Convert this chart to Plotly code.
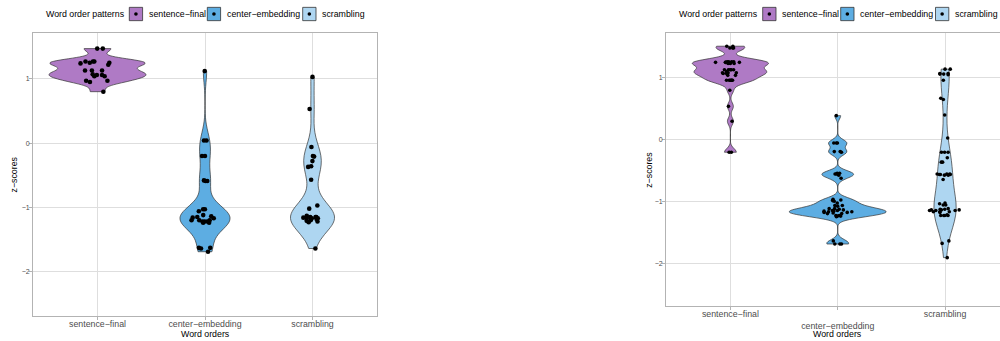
import plotly.graph_objects as go

# Word order categories (x axis) and fill colours
categories = ["sentence−final", "center−embedding", "scrambling"]
colors = ["#AF7AC5", "#5DADE2", "#AED6F1"]

# Panel A: z-scores per word order
sf_a = [1.47, 1.47, 1.27, 1.27, 1.24, 1.25, 1.27, 1.25, 1.22, 1.13, 1.13, 1.13,
        1.04, 1.07, 1.06, 1.06, 1.04, 0.97, 0.97, 0.95, 0.80]
ce_a = [1.12, 0.04, 0.04, -0.20, -0.20, -0.58, -0.59, -0.59, -1.12, -1.16, -1.14,
        -1.06, -1.15, -1.03, -1.03, -1.20, -1.20, -1.22, -1.22, -1.24, -1.20,
        -1.22, -1.24, -1.17, -1.63, -1.64, -1.63, -1.69]
sc_a = [1.03, 0.53, -0.06, -0.20, -0.21, -0.28, -0.37, -0.36, -0.57, -0.97, -1.02,
        -1.15, -1.17, -1.21, -1.15, -1.17, -1.23, -1.13, -1.15, -1.17, -1.16,
        -1.18, -1.20, -1.22, -1.64]

# Panel B: z-scores per word order
sf_b = [1.50, 1.47, 1.47, 1.50, 1.47, 1.22, 1.22, 1.22, 1.24, 1.25, 1.24, 1.25,
        1.25, 1.24, 1.25, 1.24, 1.23, 1.12, 1.12, 1.12, 1.12, 1.12, 1.09, 1.07,
        1.06, 1.07, 1.06, 1.07, 1.03, 1.03, 0.95, 0.95, 0.95, 0.95, 0.95, 0.95,
        0.79, 0.53, 0.29, -0.21, -0.21]
ce_b = [0.38, -0.06, -0.06, -0.06, -0.20, -0.20, -0.21, -0.55, -0.55, -0.56, -0.56,
        -0.58, -0.63, -0.97, -0.98, -1.00, -1.03, -0.99, -1.07, -1.07, -1.12,
        -1.12, -1.08, -1.15, -1.16, -1.17, -1.18, -1.19, -1.20, -1.16, -1.18,
        -1.17, -1.20, -1.23, -1.24, -1.25, -1.23, -1.24, -1.13, -1.14, -1.15,
        -1.69, -1.64, -1.69, -1.69]
sc_b = [1.13, 1.13, 1.06, 1.06, 1.05, 1.04, 1.05, 0.95, 0.66, 0.64, 0.39, 0.02,
        -0.21, -0.21, -0.21, -0.30, -0.37, -0.37, -0.56, -0.57, -0.57, -0.58,
        -0.56, -0.57, -0.58, -0.56, -0.65, -1.04, -1.06, -1.03, -1.06, -1.13,
        -1.15, -1.14, -1.17, -1.18, -1.17, -1.12, -1.14, -1.13, -1.15, -1.17,
        -1.15, -1.14, -1.23, -1.23, -1.23, -1.22, -1.23, -1.64, -1.68, -1.91]

y_ticks = [-2, -1, 0, 1]
legend_title = "Word order patterns"
x_title = "Word orders"
y_title = "z−scores"

# kernel bandwidths of the violin density estimates
bw_a = [0.06, 0.18, 0.22]
bw_b = [0.06, 0.055, 0.30]

FONT = "Liberation Sans, Arial, Helvetica, sans-serif"
W, H = 1000, 341

fig = go.Figure()

# violins in one panel share a scale group so that their areas are comparable
panels = [
    ("x", "y", "a", [sf_a, ce_a, sc_a], bw_a, 0.38, 4.6),
    ("x2", "y2", "b", [sf_b, ce_b, sc_b], bw_b, 0.33, 3.6),
]
for xa, ya, grp, series, bws, jit, msize in panels:
    for cat, col, vals, bw in zip(categories, colors, series, bws):
        fig.add_trace(go.Violin(
            x=[cat] * len(vals), y=vals, name=cat,
            xaxis=xa, yaxis=ya,
            fillcolor=col, opacity=1,
            line=dict(color="#333333", width=0.7),
            spanmode="hard", bandwidth=bw,
            scalegroup=grp, scalemode="width",
            points="all", pointpos=0, jitter=jit,
            marker=dict(color="black", size=msize, line=dict(width=0)),
            box_visible=False, meanline_visible=False,
            showlegend=False, hoverinfo="y",
        ))

axis_common = dict(
    showgrid=True, gridcolor="#DEDEDE", gridwidth=0.8,
    showline=True, linecolor="#B3B3B3", linewidth=0.8,
    ticks="outside", ticklen=3, tickcolor="#B3B3B3", tickwidth=0.8,
    zeroline=False, color="#4D4D4D",
)


# pixel helpers for layout placement (figure has zero margins)
def px(x):
    return x / W


def py(y):
    return 1 - y / H


y_range = [-2.69, 1.713]
xtick_font = dict(size=8.8, color="#4D4D4D", family=FONT)
ytick_font = dict(size=7, color="#4D4D4D", family=FONT)

fig.update_layout(
    width=W, height=H,
    margin=dict(l=0, r=0, t=0, b=0),
    paper_bgcolor="white", plot_bgcolor="white",
    violinmode="overlay", violingap=0.1, violingroupgap=0,
    font=dict(family=FONT, color="black"),
    xaxis=dict(domain=[px(33), px(377)], anchor="y", type="category",
               categoryorder="array", categoryarray=categories,
               range=[-0.6, 2.6], mirror=True,
               tickmode="array", tickvals=categories, ticktext=categories,
               tickfont=xtick_font, ticklabelstandoff=-3,
               **axis_common),
    yaxis=dict(domain=[py(316), py(33)], anchor="x", range=y_range,
               tickvals=y_ticks, mirror=True,
               tickfont=ytick_font, ticklabelstandoff=-2,
               **axis_common),
    xaxis2=dict(domain=[px(666), 1.0], anchor="y2", type="category",
                categoryorder="array", categoryarray=categories,
                range=[-0.6, 2.512], mirror=True,
                tickmode="array", tickvals=categories,
                ticktext=[categories[0], "<br>" + categories[1], categories[2]],
                tickfont=xtick_font, ticklabelstandoff=-3,
                **axis_common),
    yaxis2=dict(domain=[py(306), py(33)], anchor="x2", range=y_range,
                tickvals=y_ticks, mirror=False,
                tickfont=ytick_font, ticklabelstandoff=-2,
                **axis_common),
)

annotations = []
shapes = []

# axis titles
for cx, cy in [(205, 333.5), (837.5, 333.5)]:
    annotations.append(dict(x=px(cx), y=py(cy), xref="paper", yref="paper",
                            text=x_title, showarrow=False,
                            font=dict(size=8.8, color="black", family=FONT),
                            xanchor="center", yanchor="middle"))
for cx, cy in [(13, 174.5), (648.3, 169.5)]:
    annotations.append(dict(x=px(cx), y=py(cy), xref="paper", yref="paper",
                            text=y_title, showarrow=False, textangle=-90,
                            font=dict(size=8.8, color="black", family=FONT),
                            xanchor="center", yanchor="middle"))

# legends above each panel: title, then coloured keys with a dot
legend_layouts = [
    (44.3, [129.3, 207.3, 302.7]),
    (677.3, [762.7, 840.7, 935.5]),
]
key_size = 13.3
key_cy = 14.0
for title_x, key_xs in legend_layouts:
    annotations.append(dict(x=px(title_x), y=py(key_cy), xref="paper", yref="paper",
                            text=legend_title, showarrow=False,
                            font=dict(size=8.8, color="black", family=FONT),
                            xanchor="left", yanchor="middle"))
    for kx, cat, col in zip(key_xs, categories, colors):
        shapes.append(dict(type="rect", xref="paper", yref="paper",
                           x0=px(kx), x1=px(kx + key_size),
                           y0=py(key_cy + key_size / 2), y1=py(key_cy - key_size / 2),
                           fillcolor=col, line=dict(color="#333333", width=0.8)))
        dcx = kx + key_size / 2
        r = 1.8
        shapes.append(dict(type="circle", xref="paper", yref="paper",
                           x0=px(dcx - r), x1=px(dcx + r),
                           y0=py(key_cy + r), y1=py(key_cy - r),
                           fillcolor="black", line=dict(width=0)))
        annotations.append(dict(x=px(kx + key_size + 4.3), y=py(key_cy),
                                xref="paper", yref="paper",
                                text=cat, showarrow=False,
                                font=dict(size=8.8, color="black", family=FONT),
                                xanchor="left", yanchor="middle"))

fig.update_layout(annotations=annotations, shapes=shapes)

fig.write_html("out.html")
